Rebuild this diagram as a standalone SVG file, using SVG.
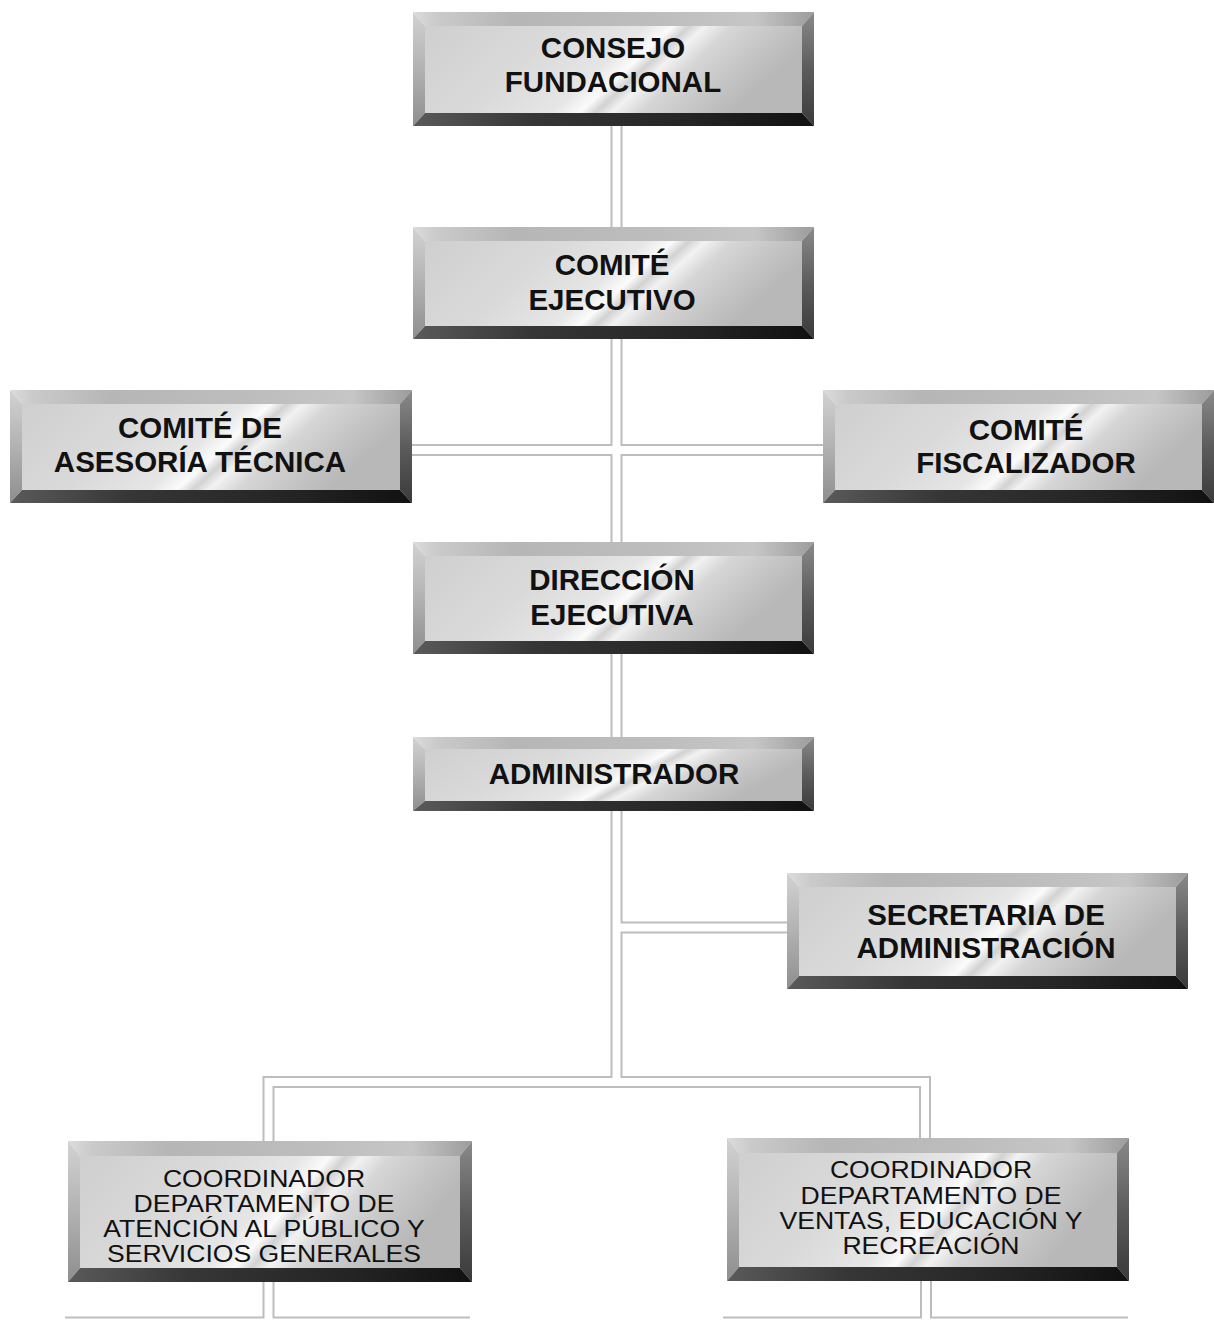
<svg xmlns="http://www.w3.org/2000/svg" width="1214" height="1321" viewBox="0 0 1214 1321">
<defs>
<linearGradient id="gFace" x1="0" y1="0" x2="1" y2="0.25">
<stop offset="0" stop-color="#cfcfcf"/>
<stop offset="0.35" stop-color="#dadada"/>
<stop offset="0.55" stop-color="#e6e6e6"/>
<stop offset="0.62" stop-color="#fbfbfb"/>
<stop offset="0.66" stop-color="#d2d2d2"/>
<stop offset="0.7" stop-color="#f2f2f2"/>
<stop offset="0.77" stop-color="#d6d6d6"/>
<stop offset="0.9" stop-color="#c4c4c4"/>
<stop offset="1" stop-color="#b8b8b8"/>
</linearGradient>
<linearGradient id="gTop" x1="0" y1="0" x2="1" y2="0">
<stop offset="0" stop-color="#dcdcdc"/>
<stop offset="0.06" stop-color="#cacaca"/>
<stop offset="0.25" stop-color="#b6b6b6"/>
<stop offset="0.6" stop-color="#bdbdbd"/>
<stop offset="0.85" stop-color="#c6c6c6"/>
<stop offset="1" stop-color="#9c9c9c"/>
</linearGradient>
<linearGradient id="gLeft" x1="0" y1="0" x2="0" y2="1">
<stop offset="0" stop-color="#d2d2d2"/>
<stop offset="0.5" stop-color="#b2b2b2"/>
<stop offset="1" stop-color="#8e8e8e"/>
</linearGradient>
<linearGradient id="gRight" x1="0" y1="0" x2="0" y2="1">
<stop offset="0" stop-color="#8a8a8a"/>
<stop offset="0.5" stop-color="#5c5c5c"/>
<stop offset="1" stop-color="#3a3a3a"/>
</linearGradient>
<linearGradient id="gBot" x1="0" y1="0" x2="1" y2="0">
<stop offset="0" stop-color="#5a5a5a"/>
<stop offset="0.3" stop-color="#363636"/>
<stop offset="0.7" stop-color="#242424"/>
<stop offset="1" stop-color="#111111"/>
</linearGradient>
</defs>
<style>
.pipeO{fill:none;stroke:#bdbdbd;stroke-width:12;stroke-linejoin:miter;stroke-linecap:butt}
.pipeI{fill:none;stroke:#ffffff;stroke-width:8;stroke-linejoin:miter;stroke-linecap:butt}
.bt{fill:url(#gTop)}
.bl{fill:url(#gLeft)}
.br{fill:url(#gRight)}
.bb{fill:url(#gBot)}
.face{fill:url(#gFace)}
.tb{font-family:"Liberation Sans",Arial,sans-serif;font-weight:bold;font-size:29.5px;fill:#111;text-anchor:middle}
.tr{font-family:"Liberation Sans",Arial,sans-serif;font-size:24.5px;fill:#111;text-anchor:middle}
</style>
<rect width="1214" height="1321" fill="#ffffff"/>
<g id="connectors">
<path class="pipeO" d="M616.5,126 V1082"/>
<path class="pipeO" d="M411,450 H823"/>
<path class="pipeO" d="M616.5,927.5 H787"/>
<path class="pipeO" d="M268.5,1141 V1082 H925 V1138"/>
<path class="pipeO" d="M268.5,1282 V1330"/>
<path class="pipeO" d="M65,1322.5 H470"/>
<path class="pipeO" d="M926,1281 V1330"/>
<path class="pipeO" d="M723,1322.5 H1128"/>
<path class="pipeI" d="M616.5,126 V1082"/>
<path class="pipeI" d="M411,450 H823"/>
<path class="pipeI" d="M616.5,927.5 H787"/>
<path class="pipeI" d="M268.5,1141 V1082 H925 V1138"/>
<path class="pipeI" d="M268.5,1282 V1330"/>
<path class="pipeI" d="M65,1322.5 H470"/>
<path class="pipeI" d="M926,1281 V1330"/>
<path class="pipeI" d="M723,1322.5 H1128"/>
</g>
<g id="consejo">
<rect class="face" x="425" y="26" width="377" height="87"/>
<polygon class="bt" points="413,12 814,12 802,26 425,26"/>
<polygon class="bl" points="413,12 425,26 425,113 413,126"/>
<polygon class="br" points="814,12 814,126 802,113 802,26"/>
<polygon class="bb" points="413,126 425,113 802,113 814,126"/>
<text class="tb" x="613" y="58">CONSEJO</text>
<text class="tb" x="613" y="92">FUNDACIONAL</text>
</g>
<g id="comite-ejecutivo">
<rect class="face" x="425" y="241" width="377" height="85"/>
<polygon class="bt" points="413,227 814,227 802,241 425,241"/>
<polygon class="bl" points="413,227 425,241 425,326 413,339"/>
<polygon class="br" points="814,227 814,339 802,326 802,241"/>
<polygon class="bb" points="413,339 425,326 802,326 814,339"/>
<text class="tb" x="612" y="275">COMITÉ</text>
<text class="tb" x="612" y="310">EJECUTIVO</text>
</g>
<g id="asesoria">
<rect class="face" x="22" y="404" width="378" height="86"/>
<polygon class="bt" points="10,390 412,390 400,404 22,404"/>
<polygon class="bl" points="10,390 22,404 22,490 10,503"/>
<polygon class="br" points="412,390 412,503 400,490 400,404"/>
<polygon class="bb" points="10,503 22,490 400,490 412,503"/>
<text class="tb" x="200" y="438">COMITÉ DE</text>
<text class="tb" x="200" y="472">ASESORÍA TÉCNICA</text>
</g>
<g id="fiscalizador">
<rect class="face" x="835" y="404" width="367" height="86"/>
<polygon class="bt" points="823,390 1214,390 1202,404 835,404"/>
<polygon class="bl" points="823,390 835,404 835,490 823,503"/>
<polygon class="br" points="1214,390 1214,503 1202,490 1202,404"/>
<polygon class="bb" points="823,503 835,490 1202,490 1214,503"/>
<text class="tb" x="1026" y="440">COMITÉ</text>
<text class="tb" x="1026" y="473">FISCALIZADOR</text>
</g>
<g id="direccion">
<rect class="face" x="425" y="556" width="377" height="85"/>
<polygon class="bt" points="413,542 814,542 802,556 425,556"/>
<polygon class="bl" points="413,542 425,556 425,641 413,654"/>
<polygon class="br" points="814,542 814,654 802,641 802,556"/>
<polygon class="bb" points="413,654 425,641 802,641 814,654"/>
<text class="tb" x="612" y="590">DIRECCIÓN</text>
<text class="tb" x="612" y="625">EJECUTIVA</text>
</g>
<g id="administrador">
<rect class="face" x="425" y="749" width="377" height="52"/>
<polygon class="bt" points="413,737 814,737 802,749 425,749"/>
<polygon class="bl" points="413,737 425,749 425,801 413,811"/>
<polygon class="br" points="814,737 814,811 802,801 802,749"/>
<polygon class="bb" points="413,811 425,801 802,801 814,811"/>
<text class="tb" x="614" y="784">ADMINISTRADOR</text>
</g>
<g id="secretaria">
<rect class="face" x="799" y="887" width="377" height="89"/>
<polygon class="bt" points="787,873 1188,873 1176,887 799,887"/>
<polygon class="bl" points="787,873 799,887 799,976 787,989"/>
<polygon class="br" points="1188,873 1188,989 1176,976 1176,887"/>
<polygon class="bb" points="787,989 799,976 1176,976 1188,989"/>
<text class="tb" x="986" y="925">SECRETARIA DE</text>
<text class="tb" x="986" y="958">ADMINISTRACIÓN</text>
</g>
<g id="coord-atencion">
<rect class="face" x="80" y="1156" width="380" height="112"/>
<polygon class="bt" points="68,1141 472,1141 460,1156 80,1156"/>
<polygon class="bl" points="68,1141 80,1156 80,1268 68,1282"/>
<polygon class="br" points="472,1141 472,1282 460,1268 460,1156"/>
<polygon class="bb" points="68,1282 80,1268 460,1268 472,1282"/>
<g transform="translate(264,0) scale(1.085,1)">
<text class="tr" x="0" y="1187">COORDINADOR</text>
<text class="tr" x="0" y="1212">DEPARTAMENTO DE</text>
<text class="tr" x="0" y="1237">ATENCIÓN AL PÚBLICO Y</text>
<text class="tr" x="0" y="1262">SERVICIOS GENERALES</text>
</g>
</g>
<g id="coord-ventas">
<rect class="face" x="739" y="1153" width="378" height="114"/>
<polygon class="bt" points="727,1138 1129,1138 1117,1153 739,1153"/>
<polygon class="bl" points="727,1138 739,1153 739,1267 727,1281"/>
<polygon class="br" points="1129,1138 1129,1281 1117,1267 1117,1153"/>
<polygon class="bb" points="727,1281 739,1267 1117,1267 1129,1281"/>
<g transform="translate(931,0) scale(1.085,1)">
<text class="tr" x="0" y="1178">COORDINADOR</text>
<text class="tr" x="0" y="1204">DEPARTAMENTO DE</text>
<text class="tr" x="0" y="1229">VENTAS, EDUCACIÓN Y</text>
<text class="tr" x="0" y="1254">RECREACIÓN</text>
</g>
</g>
</svg>
